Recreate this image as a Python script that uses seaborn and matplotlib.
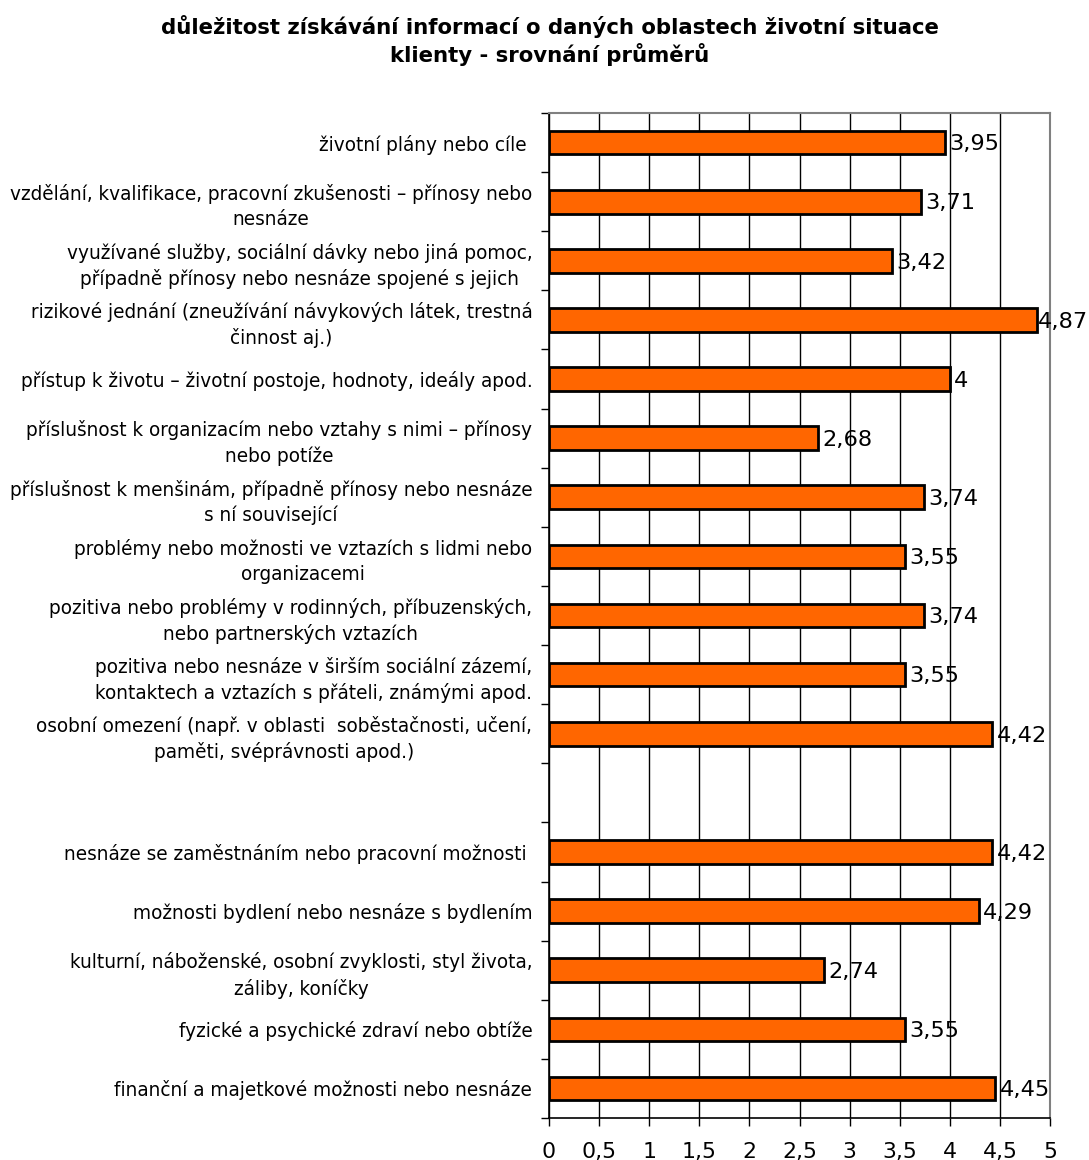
import numpy as np
import pandas as pd
import matplotlib
matplotlib.use("Agg")
import matplotlib.pyplot as plt
import seaborn as sns
from matplotlib.ticker import FixedLocator

categories = [
    "životní plány nebo cíle ",
    "vzdělání, kvalifikace, pracovní zkušenosti – přínosy nebo\nnesnáze",
    "využívané služby, sociální dávky nebo jiná pomoc,\npřípadně přínosy nebo nesnáze spojené s jejich",
    "rizikové jednání (zneužívání návykových látek, trestná\nčinnost aj.)",
    "přístup k životu – životní postoje, hodnoty, ideály apod.",
    "příslušnost k organizacím nebo vztahy s nimi – přínosy\nnebo potíže",
    "příslušnost k menšinám, případně přínosy nebo nesnáze\ns ní související",
    "problémy nebo možnosti ve vztazích s lidmi nebo\norganizacemi",
    "pozitiva nebo problémy v rodinných, příbuzenských,\nnebo partnerských vztazích",
    "pozitiva nebo nesnáze v širším sociální zázemí,\nkontaktech a vztazích s přáteli, známými apod.",
    "osobní omezení (např. v oblasti  soběstačnosti, učení,\npaměti, svéprávnosti apod.)",
    "",
    "nesnáze se zaměstnáním nebo pracovní možnosti ",
    "možnosti bydlení nebo nesnáze s bydlením",
    "kulturní, náboženské, osobní zvyklosti, styl života,\nzáliby, koníčky",
    "fyzické a psychické zdraví nebo obtíže",
    "finanční a majetkové možnosti nebo nesnáze",
]
values = [3.95, 3.71, 3.42, 4.87, 4.00, 2.68, 3.74, 3.55, 3.74, 3.55, 4.42,
          np.nan, 4.42, 4.29, 2.74, 3.55, 4.45]
x_ticks = [0, 0.5, 1, 1.5, 2, 2.5, 3, 3.5, 4, 4.5, 5]
x_tick_labels = ["0", "0,5", "1", "1,5", "2", "2,5", "3", "3,5", "4", "4,5", "5"]
title = "důležitost získávání informací o daných oblastech životní situace\nklienty - srovnání průměrů"

df = pd.DataFrame({"cat": categories, "val": values})

sns.set_theme(style="white")
plt.rcParams['font.family'] = ['DejaVu Sans']
plt.rcParams['text.color'] = 'black'
plt.rcParams['xtick.color'] = 'black'
plt.rcParams['ytick.color'] = 'black'
plt.rcParams['axes.labelcolor'] = 'black'

fig = plt.figure(figsize=(10.89, 11.60), dpi=100)
ax = fig.add_axes([549/1089, 1 - 1118/1160, (1050-549)/1089, (1118-113)/1160])

sns.barplot(data=df, x="val", y="cat", order=categories, orient="h",
            color="#FF6600", edgecolor="black", linewidth=2, width=0.4,
            saturation=1, ax=ax)

ax.set_xlim(0, 5)
ax.set_ylim(len(categories) - 0.5, -0.5)
ax.set_xlabel("")
ax.set_ylabel("")

ax.set_xticks(x_ticks)
ax.set_xticklabels(x_tick_labels, fontsize=15.8, color="black")
ax.tick_params(axis="x", length=6, width=1, color="black", direction="out",
               bottom=True, pad=11)
ax.grid(axis="x", color="black", linewidth=1)
ax.grid(axis="y", visible=False)
ax.set_axisbelow(True)

ax.set_yticks(range(len(categories)))
ax.set_yticklabels(categories, fontsize=13.35, color="black")
for lab in ax.get_yticklabels():
    lab.set_multialignment("center")
    lab.set_linespacing(1.4)
ax.tick_params(axis="y", which="major", length=0, pad=12)
ax.yaxis.set_minor_locator(FixedLocator(np.arange(-0.5, len(categories), 1.0)))
ax.tick_params(axis="y", which="minor", length=6, width=1, color="black",
               direction="out", left=True)

for side in ["left", "bottom"]:
    ax.spines[side].set_color("black")
    ax.spines[side].set_linewidth(1.2)
for side in ["top", "right"]:
    ax.spines[side].set_color("#808080")
    ax.spines[side].set_linewidth(1.5)

for i, v in enumerate(values):
    if np.isnan(v):
        continue
    txt = f"{v:.2f}".rstrip("0").rstrip(".").replace(".", ",")
    pad = 0.045 if v < 4.8 else 0.005
    ax.text(v + pad, i + 0.03, txt, va="center", ha="left", fontsize=16.2,
            color="black", clip_on=False)

fig.text(0.505, 0.987, title, ha="center", va="top", fontsize=15.3,
         fontweight="bold", linespacing=1.25, color="black")

fig.savefig("out.png", dpi=100, facecolor="white")
